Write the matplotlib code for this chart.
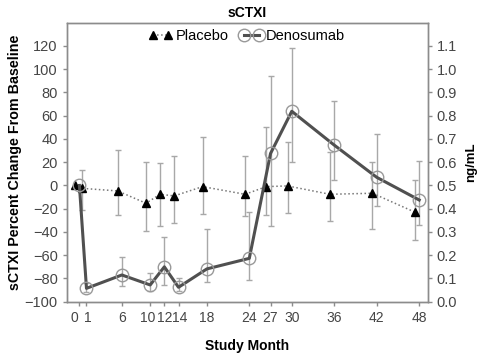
import numpy as np
import matplotlib
matplotlib.use('Agg')
from matplotlib import pyplot as plt
from matplotlib import transforms

# study months and the two treatment groups (percent change from baseline)
months = [0, 1, 6, 10, 12, 14, 18, 24, 27, 30, 36, 42, 48]

placebo = [0, -2.5, -4.7, -15.3, -7.6, -9, -1, -7.6, -1, -0.4, -7.6, -6.7, -23]
placebo_upper = [0, 13.3, 30.5, 20, 19, 25.4, 41.5, 25.4, 50.6, 37.7, 28.6, 20.5, 4.7]
placebo_lower = [0, -21, -25.4, -39.5, -35, -32, -24.5, -26.5, -25.4, -24, -31, -37.7, -47]

denosumab = [0, -88.5, -77, -85.6, -70, -87.6, -71.8, -62.7, 27.5, 63.8, 34.7, 7, -12.5]
denosumab_upper = [0, -84, -61.3, -75.5, -44.6, -79.8, -37.7, -22.5, 94, 118, 73, 44.3, 21.3]
denosumab_lower = [0, -92, -86.5, -90.5, -85.6, -90.5, -82.8, -81.3, -35, 20.5, 4.7, -18, -34]

left_ticks = list(range(-100, 121, 20))
right_ticks = [round(0.1 * i, 1) for i in range(12)]

plt.rcParams['font.family'] = ['Liberation Sans', 'DejaVu Sans']

fig = plt.figure(figsize=(4.83, 3.53), dpi=100)
ax = fig.add_axes([0.138, 0.1453, 0.7475, 0.7904])

x = np.array(months, dtype=float)
x_pl = x - 0.6  # placebo is dodged slightly to the left

def draw_errors(xs, mean, upper, lower):
    mean, upper, lower = np.array(mean), np.array(upper), np.array(lower)
    ax.errorbar(xs[1:], mean[1:], yerr=[mean[1:] - lower[1:], upper[1:] - mean[1:]],
                fmt='none', ecolor='#a8a8a8', elinewidth=1, capsize=2.3, capthick=1, zorder=1)

draw_errors(x_pl, placebo, placebo_upper, placebo_lower)
draw_errors(x, denosumab, denosumab_upper, denosumab_lower)

ax.plot(x_pl, placebo, linestyle=':', color='#777777', linewidth=1.1, marker='^',
        markersize=6, markerfacecolor='black', markeredgecolor='black', label='Placebo', zorder=3)
ax.plot(x, denosumab, linestyle='-', color='#505050', linewidth=2.2, marker='o',
        markersize=9, markerfacecolor='none', markeredgecolor='#999999', markeredgewidth=1,
        label='Denosumab', zorder=4)

ax.set_xlim(-1.8, 49.2)
ax.set_ylim(-100, 140)
ax.set_yticks(left_ticks)
ax.set_xticks(months)
ax.set_xticklabels([str(m) for m in months])

ax2 = ax.twinx()
ax2.set_ylim(0, 1.2)
ax2.set_yticks(right_ticks)
ax2.set_yticklabels(['{:.1f}'.format(t) for t in right_ticks])

for a in (ax, ax2):
    for sp in a.spines.values():
        sp.set_color('#8c8c8c')
        sp.set_linewidth(1)
    a.tick_params(colors='#8c8c8c', labelcolor='#454545', labelsize=10.5, length=3, width=1)
ax.tick_params(axis='x', labelsize=10)

# the crowded month labels are nudged apart a little, as in the source figure
nudges = {0: -5, 1: 1, 10: -3, 14: 1}
for m, lab in zip(months, ax.get_xticklabels()):
    if m in nudges:
        lab.set_transform(lab.get_transform() +
                          transforms.ScaledTranslation(nudges[m] / 100, 0, fig.dpi_scale_trans))

ax.set_ylabel('sCTXI Percent Change From Baseline', fontsize=10.3, fontweight='bold', labelpad=2)
ax2.set_ylabel('ng/mL', fontsize=9.5, fontweight='bold', labelpad=6)
ax.set_xlabel('Study Month', fontsize=10, fontweight='bold', labelpad=10)
ax.set_title('sCTXI', fontsize=10, fontweight='bold', pad=4)

ax.legend(loc='upper center', frameon=False, ncol=2, numpoints=2, fontsize=10.5,
          handlelength=1.6, handletextpad=0.2, columnspacing=0.8,
          borderaxespad=0.2, bbox_to_anchor=(0.5, 1.01))

fig.savefig('out.png', dpi=100)
